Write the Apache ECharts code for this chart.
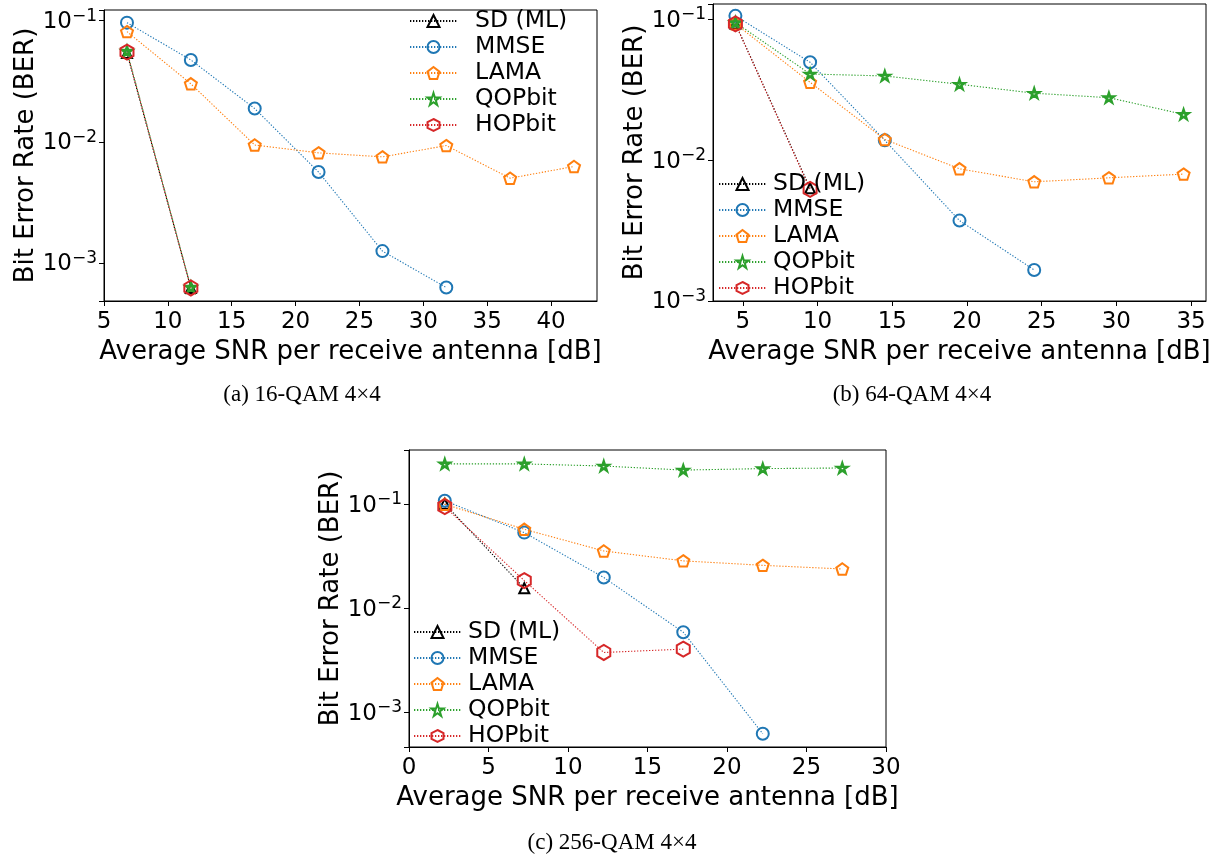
<!DOCTYPE html>
<html>
<head>
<meta charset="utf-8">
<script src="https://cdn.jsdelivr.net/npm/echarts@6/dist/echarts.min.js"></script>
<style>
html, body { margin: 0; background: #fff; }
#main { width: 1224px; height: 855px; }
</style>
</head>
<body>
<div id="main"></div>
<script>
// legend names, same order in all three plots
var names = ['SD (ML)', 'MMSE', 'LAMA', 'QOPbit', 'HOPbit'];

// (a) 16-QAM 4x4
var snrA = [6.8, 11.8, 16.8, 21.8, 26.8, 31.8, 36.8, 41.8];
var sdA = [0.054, 0.00062];
var mmseA = [0.0963, 0.0474, 0.0188, 0.00562, 0.00125, 0.000625];
var lamaA = [0.0812, 0.0301, 0.0094, 0.0081, 0.0075, 0.0093, 0.0050, 0.00625];
var qopA = [0.056, 0.00063];
var hopA = [0.055, 0.00062];

// (b) 64-QAM 4x4
var snrB = [4.5, 9.5, 14.5, 19.5, 24.5, 29.5, 34.5];
var sdB = [0.093, 0.0063];
var mmseB = [0.1055, 0.0494, 0.0138, 0.00372, 0.00166];
var lamaB = [0.0926, 0.0356, 0.0140, 0.00867, 0.00701, 0.00748, 0.00795];
var qopB = [0.0946, 0.0408, 0.0395, 0.0345, 0.0298, 0.0277, 0.0211];
var hopB = [0.0926, 0.0062];

// (c) 256-QAM 4x4
var snrC = [2.25, 7.25, 12.25, 17.25, 22.25, 27.25];
var sdC = [0.101, 0.0156];
var mmseC = [0.108, 0.0534, 0.0198, 0.0059, 0.000625];
var lamaC = [0.100, 0.0575, 0.0356, 0.0286, 0.0259, 0.0239];
var qopC = [0.244, 0.244, 0.233, 0.213, 0.220, 0.223];
var hopC = [0.0948, 0.0185, 0.00377, 0.00406];

var xTicksA = [5, 10, 15, 20, 25, 30, 35, 40];
var xTicksB = [5, 10, 15, 20, 25, 30, 35];
var xTicksC = [0, 5, 10, 15, 20, 25, 30];

var captions = ['(a) 16-QAM 4\u00d74', '(b) 64-QAM 4\u00d74', '(c) 256-QAM 4\u00d74'];

var colors = ['#000000', '#1f77b4', '#ff7f0e', '#2ca02c', '#d62728'];
var pentagon = 'path://M50,0 L97.55,34.55 L79.39,90.45 L20.61,90.45 L2.45,34.55 Z';
var star = 'path://M50,0 L61.23,34.55 L97.55,34.55 L68.17,55.9 L79.39,90.45 L50,69.1 L20.61,90.45 L31.83,55.9 L2.45,34.55 L38.77,34.55 Z';
var hexagon = 'path://M50,0 L93.3,25 L93.3,75 L50,100 L6.7,75 L6.7,25 Z';
var symbols = ['triangle', 'circle', pentagon, star, hexagon];
var sizes = [10, 12, 12, 10, 15];

var font = 'DejaVu Sans';

function pairs(xs, ys) {
    var out = [];
    for (var i = 0; i < ys.length; i++) out.push([xs[i], ys[i]]);
    return out;
}

function logLabel(v) {
    var e = Math.log10(v);
    var r = Math.round(e);
    if (Math.abs(e - r) > 1e-6) return '';
    return '{b|10}{s|' + (r < 0 ? '\u2212' + (-r) : r) + '}';
}

function makeSeries(idx, xs, lists) {
    return lists.map(function (ys, k) {
        return {
            name: names[k],
            type: 'line',
            xAxisIndex: idx,
            yAxisIndex: idx,
            data: pairs(xs, ys),
            symbol: symbols[k],
            symbolSize: sizes[k],
            symbolKeepAspect: true,
            lineStyle: { color: colors[k], width: 1.1, type: [1.3, 1.7] },
            itemStyle: { color: 'rgba(0,0,0,0)', borderColor: colors[k], borderWidth: k === 3 ? 2.4 : 2 },
            emphasis: { disabled: true }
        };
    });
}

function xAxis(idx, min, max, ticks) {
    return {
        type: 'value', gridIndex: idx, min: min, max: max,
        name: 'Average SNR per receive antenna [dB]',
        nameLocation: 'middle', nameGap: 38,
        nameTextStyle: { fontSize: 26, fontFamily: font, color: '#000' },
        axisLine: { lineStyle: { color: '#000', width: 1 } },
        axisTick: { customValues: ticks, length: 5, lineStyle: { color: '#000' } },
        axisLabel: { customValues: ticks, fontSize: 23, fontFamily: font, color: '#000', margin: 10 },
        splitLine: { show: false }
    };
}

function yAxis(idx, min, max) {
    return {
        type: 'log', gridIndex: idx, min: min, max: max,
        name: 'Bit Error Rate (BER)',
        nameLocation: 'middle', nameGap: 64,
        nameTextStyle: { fontSize: 26, fontFamily: font, color: '#000' },
        axisLine: { lineStyle: { color: '#000', width: 1 } },
        axisTick: { length: 5, lineStyle: { color: '#000' } },
        axisLabel: {
            formatter: logLabel, margin: 7, color: '#000',
            rich: {
                b: { fontSize: 23, fontFamily: font, color: '#000', verticalAlign: 'bottom', lineHeight: 26 },
                s: { fontSize: 17, fontFamily: font, color: '#000', verticalAlign: 'top' }
            }
        },
        splitLine: { show: false }
    };
}

function legend(left, top, textPad) {
    return {
        data: names, orient: 'vertical', left: left, top: top, padding: 0,
        itemWidth: 47, itemHeight: 15, itemGap: 2,
        selectedMode: false,
        textStyle: { fontSize: 23.5, fontFamily: font, color: '#000', padding: [0, 0, 0, textPad] }
    };
}

var myChart = echarts.init(document.getElementById('main'));

var gridStyle = { show: true, borderColor: '#000', borderWidth: 1, containLabel: false };

option = {
    animation: false,
    backgroundColor: '#fff',
    grid: [
        Object.assign({ left: 104, top: 10, width: 493, height: 291 }, gridStyle),
        Object.assign({ left: 713, top: 4, width: 493, height: 297 }, gridStyle),
        Object.assign({ left: 409, top: 450, width: 477, height: 297 }, gridStyle)
    ],
    xAxis: [
        xAxis(0, 5, 43.6, xTicksA),
        xAxis(1, 3, 36, xTicksB),
        xAxis(2, 0, 30, xTicksC)
    ],
    yAxis: [
        yAxis(0, 0.000484, 0.1225),
        yAxis(1, 0.001, 0.128),
        yAxis(2, 0.000466, 0.332)
    ],
    legend: [legend(409, 9, 13), legend(718, 172, 2), legend(413, 620, 2)],
    graphic: [
        { type: 'text', x: 302, y: 395, style: { text: captions[0], font: '23px "Liberation Serif"', fill: '#000', align: 'center', verticalAlign: 'middle' } },
        { type: 'text', x: 912, y: 395, style: { text: captions[1], font: '23px "Liberation Serif"', fill: '#000', align: 'center', verticalAlign: 'middle' } },
        { type: 'text', x: 612, y: 843, style: { text: captions[2], font: '23px "Liberation Serif"', fill: '#000', align: 'center', verticalAlign: 'middle' } }
    ],
    series: []
        .concat(makeSeries(0, snrA, [sdA, mmseA, lamaA, qopA, hopA]))
        .concat(makeSeries(1, snrB, [sdB, mmseB, lamaB, qopB, hopB]))
        .concat(makeSeries(2, snrC, [sdC, mmseC, lamaC, qopC, hopC]))
};

myChart.setOption(option);
</script>
</body>
</html>
